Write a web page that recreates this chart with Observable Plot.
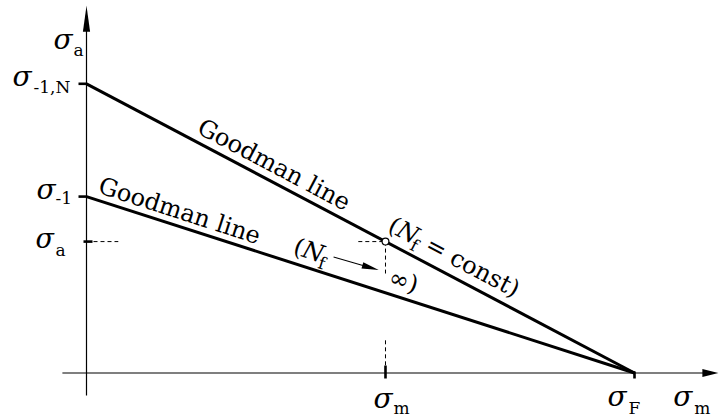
<!DOCTYPE html>
<html><head><meta charset="utf-8">
<script src="https://cdn.jsdelivr.net/npm/d3@7"></script>
<script src="https://cdn.jsdelivr.net/npm/@observablehq/plot@0.6"></script>
<style>html,body{margin:0;padding:0;background:#fff}svg{display:block}</style>
</head><body><div id="chart"></div>
<script>
// ---------- data (relative units: σF = 10, σ-1,N = 10) ----------
const lineNames   = ["N_f = const", "N_f → ∞"];
const intercepts  = [10, 6.1];          // σ-1,N and σ-1
const sigmaF      = 10;                 // common x-intercept
const sigmaM      = 5.456;              // operating mean stress
const sigmaAop    = 4.544;              // operating amplitude (on the N_f = const line)
const yTickValues = [10, 6.1, 4.544];
const yTickSubs   = ["-1,N", "-1", "a"];
const xTickValues = [5.456, 10];
const xTickSubs   = ["m", "F"];
const xAxisExtent = [-0.44, 11.53];
const yAxisExtent = [-0.78, 12.7];
const hDashStubs  = [[0, 0.58], [4.96, 5.456]];
const vDashStubs  = [[4.544, 3.44], [1.13, 0]];
const axisTitleSubs = ["a", "m"];       // σa (vertical), σm (horizontal)

// ---------- layout ----------
const W = 719, H = 416, mL = 86, mR = 85, mT = 83.3, mB = 43.5;
const kx = (W - mL - mR) / 10, ky = (H - mT - mB) / 10;
const FONT = "DejaVu Serif";
const BIG = 24, SUB = 17, SIG = 28;
const deg = r => r * 180 / Math.PI;
const thU = Math.atan(intercepts[0] * ky / (sigmaF * kx));
const thL = Math.atan(intercepts[1] * ky / (sigmaF * kx));
const along = (s, n, th, ox = 0, oy = 0) => ({
  dx: ox + s * Math.cos(th) + n * Math.sin(th),
  dy: oy + s * Math.sin(th) - n * Math.cos(th)
});

const poly = pts => ({draw(ctx) { ctx.moveTo(pts[0][0], pts[0][1]); for (const p of pts.slice(1)) ctx.lineTo(p[0], p[1]); ctx.closePath(); }});
const rect = (x0, y0, x1, y1) => poly([[x0, y0], [x1, y0], [x1, y1], [x0, y1]]);
const rot = (pts, th) => pts.map(([x, y]) => [x * Math.cos(th) - y * Math.sin(th), x * Math.sin(th) + y * Math.cos(th)]);
const arrowUp = poly([[0, 0], [-3.6, 26], [3.6, 26]]);
const arrowRight = poly([[0, 0], [-16, -4], [-16, 4]]);
const smallArrow = (len, th) => ({draw(ctx) {
  const shaft = rot([[0, -0.5], [len - 12, -0.5], [len - 12, 0.5], [0, 0.5]], th);
  const head = rot([[len - 17, -3.3], [len, 0], [len - 17, 3.3]], th);
  for (const P of [shaft, head]) { ctx.moveTo(P[0][0], P[0][1]); for (const p of P.slice(1)) ctx.lineTo(p[0], p[1]); ctx.closePath(); }
}});

function label(datum, text, {dx, dy, size = BIG, italic = false, rotate = 0, anchor = "start"}) {
  return Plot.text([datum], {
    x: d => d.x, y: d => d.y, text: () => text, dx, dy, rotate,
    fontSize: size, fontStyle: italic ? "italic" : "normal", fontFamily: FONT,
    textAnchor: anchor, lineAnchor: "bottom", fill: "black"
  });
}
function sigma(datum, sub, o) {
  return [
    label(datum, "σ", {dx: o.sx, dy: o.sy, italic: true, size: o.size ?? SIG}),
    label(datum, sub, {dx: o.bx, dy: o.by, size: SUB})
  ];
}

const goodman = lineNames.map((name, i) => ({name, a: intercepts[i]}));
const yTicks = yTickValues.map((v, i) => ({x: 0, y: v, sub: yTickSubs[i]}));
const xTicks = xTickValues.map((v, i) => ({x: v, y: 0, sub: xTickSubs[i]}));
const op = {x: sigmaM, y: sigmaAop};
const lowOp = {x: sigmaM, y: intercepts[1] * (1 - sigmaM / sigmaF)};

const yLabOff = [
  {sx: -74, sy: 1.7, bx: -53, by: 8.7},
  {sx: -50, sy: 2, bx: -31, by: 7},
  {sx: -51, sy: 6, bx: -31, by: 14, size: 27}
];
const xLabOff = [
  {sx: -12, sy: 34.5, bx: 8, by: 40.5},
  {sx: -27, sy: 32.5, bx: -6, by: 40.5}
];
const yTickSym = [rect(-8, -1.3, 0, 1.3), rect(-8, -1.3, 0, 1.3), rect(-3, -1.3, 6, 1.3)];
const xTickSym = [rect(-1.3, -7.5, 1.3, 5.5), rect(-1.3, -1.5, 1.3, 5.5)];

const uo = [1, -11.1];
const lo = [-93.5, -39.4];
const uAt = (s, n) => along(s, n, thU, uo[0], uo[1]);
const lAt = (s, n) => along(s, n, thL, lo[0], lo[1]);
const xU = 3.285, xL = 1.615;

const marks = [
  Plot.link([0], {x1: xAxisExtent[0], x2: xAxisExtent[1] - 0.2, y1: 0, y2: 0, stroke: "black", strokeWidth: 1.2}),
  Plot.link([0], {x1: 0, x2: 0, y1: yAxisExtent[0], y2: yAxisExtent[1] - 0.5, stroke: "black", strokeWidth: 1.2}),
  Plot.dot([{x: xAxisExtent[1], y: 0}], {x: "x", y: "y", symbol: arrowRight, fill: "black", stroke: "none"}),
  Plot.dot([{x: 0, y: yAxisExtent[1]}], {x: "x", y: "y", symbol: arrowUp, fill: "black", stroke: "none"}),
  Plot.link(hDashStubs, {x1: d => d[0], x2: d => d[1], y1: sigmaAop, y2: sigmaAop, stroke: "black", strokeWidth: 1, strokeDasharray: "4,3"}),
  Plot.link(vDashStubs, {x1: sigmaM, x2: sigmaM, y1: d => d[0], y2: d => d[1], stroke: "black", strokeWidth: 1, strokeDasharray: "4,3"}),
  Plot.link(goodman, {x1: 0, y1: d => d.a, x2: sigmaF, y2: 0, stroke: "black", strokeWidth: 3}),
  ...yTicks.map((d, i) => Plot.dot([d], {x: "x", y: "y", symbol: yTickSym[i], fill: "black", stroke: "none"})),
  ...xTicks.map((d, i) => Plot.dot([d], {x: "x", y: "y", symbol: xTickSym[i], fill: "black", stroke: "none"})),
  Plot.dot([op], {x: "x", y: "y", r: 3.4, fill: "white", stroke: "black", strokeWidth: 1.2}),
  ...yTicks.flatMap((d, i) => sigma(d, d.sub, yLabOff[i])),
  ...xTicks.flatMap((d, i) => sigma(d, d.sub, xLabOff[i])),
  ...sigma({x: 0, y: yAxisExtent[1]}, axisTitleSubs[0], {sx: -33, sy: 43, bx: -13, by: 50}),
  ...sigma({x: xAxisExtent[1], y: 0}, axisTitleSubs[1], {sx: -45, sy: 32.5, bx: -24, by: 40.5}),
  label({x: xU, y: intercepts[0] * (1 - xU / sigmaF)}, "Goodman line", {...along(0, 8, thU), rotate: deg(thU), anchor: "middle"}),
  label({x: xL, y: intercepts[1] * (1 - xL / sigmaF)}, "Goodman line", {...along(0, 7, thL), rotate: deg(thL), anchor: "middle"}),
  label(op, "(", {...uAt(0, 0), rotate: deg(thU)}),
  label(op, "N", {...uAt(9.3, 0), rotate: deg(thU), italic: true}),
  label(op, "f", {...uAt(28.3, -6), rotate: deg(thU), size: SUB}),
  label(op, "= const)", {...uAt(42, 0), rotate: deg(thU)}),
  label(lowOp, "(", {...lAt(0, 0), rotate: deg(thL)}),
  label(lowOp, "N", {...lAt(9.3, 0), rotate: deg(thL), italic: true}),
  label(lowOp, "f", {...lAt(28.3, -6), rotate: deg(thL), size: SUB}),
  Plot.dot([lowOp], {x: "x", y: "y", symbol: smallArrow(47, thL - 0.03), fill: "black", stroke: "none", ...lAt(40.7, 9.3)}),
  label(lowOp, "∞)", {...lAt(100, 0), rotate: deg(thL)})
];

const chart = Plot.plot({
  width: W, height: H,
  marginLeft: mL, marginRight: mR, marginTop: mT, marginBottom: mB,
  x: {domain: [0, 10], axis: null},
  y: {domain: [0, 10], axis: null},
  style: {background: "white", fontFamily: FONT},
  marks
});
document.getElementById("chart").append(chart);
</script>
</body></html>
